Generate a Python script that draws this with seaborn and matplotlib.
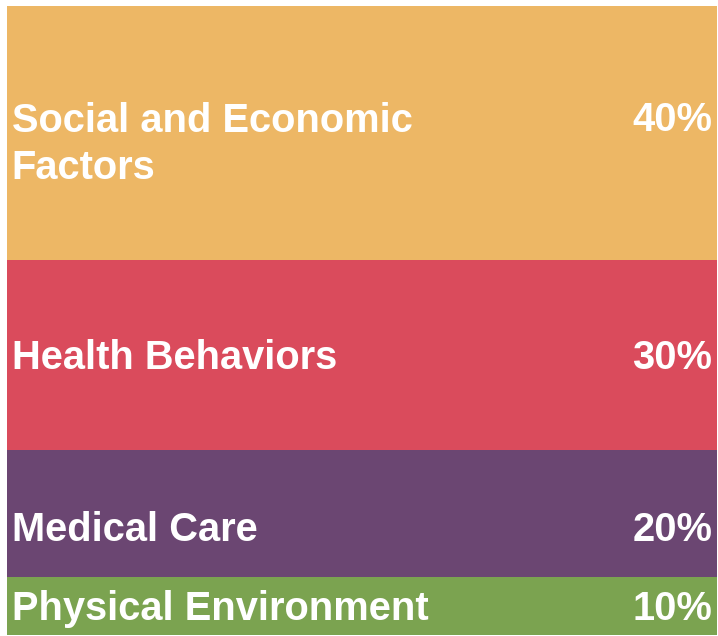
import matplotlib
matplotlib.use("Agg")
import matplotlib.pyplot as plt
import seaborn as sns
import pandas as pd

categories = ["Social and Economic\nFactors", "Health Behaviors", "Medical Care", "Physical Environment"]
values = [40, 30, 20, 10]
pct_labels = ["40%", "30%", "20%", "10%"]
colors = ["#EDB765", "#DA4B5C", "#6B4672", "#7BA350"]

# layout: vertical placement of text within each segment (fraction of segment)
label_frac = [0.545, 0.515, 0.625, 0.49]
pct_frac = [0.447, 0.515, 0.625, 0.49]

sns.set_theme(style="white")
plt.rcParams['font.family'] = ['Liberation Sans', 'DejaVu Sans']

fig = plt.figure(figsize=(7.18, 6.36), dpi=100)
ax = fig.add_axes([7/718, 1/636, 710/718, 629/636])

df = pd.DataFrame({"group": ["all"] * len(values), "cat": categories, "value": values})
bottom = 0
for i, row in df.iterrows():
    sns.barplot(x=[row["group"]], y=[row["value"]], bottom=bottom, color=colors[i],
                width=1.0, ax=ax, saturation=1, linewidth=0, errorbar=None)
    ax.text(-0.4935, bottom + row["value"] * label_frac[i], row["cat"], color="white",
            fontsize=28.7, fontweight="bold", ha="left", va="center", linespacing=1.3)
    ax.text(0.4935, bottom + row["value"] * pct_frac[i], pct_labels[i], color="white",
            fontsize=28.7, fontweight="bold", ha="right", va="center")
    bottom += row["value"]

ax.set_xlim(-0.5, 0.5)
ax.set_ylim(99.06, 0)
ax.axis("off")
fig.savefig("out.png", dpi=100)
